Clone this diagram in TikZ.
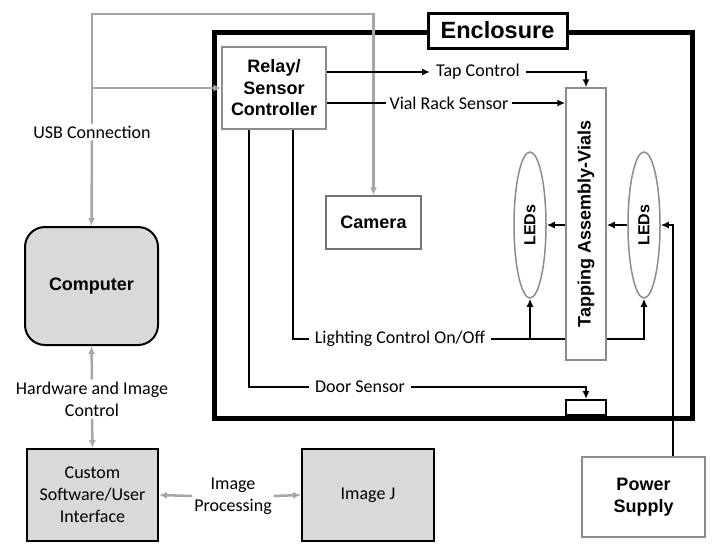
\documentclass[tikz,border=0pt]{standalone}
\usepackage{fontspec}
\setmainfont{Carlito}
\newfontfamily\headfont{Liberation Sans}
\usepackage{xcolor}
\usetikzlibrary{shapes.geometric, arrows.meta, positioning, calc}

\definecolor{linegray}{HTML}{A6A6A6}
\definecolor{boxgray}{HTML}{D9D9D9}
\definecolor{edgegray}{HTML}{8C8C8C}

\begin{document}
\begin{tikzpicture}[x=1pt, y=-1pt,
            label_style/.style={font=\fontsize{18}{22}\selectfont, align=center, inner xsep=6pt, inner ysep=2pt},
            head_box/.style={rectangle, draw=edgegray, line width=1.5pt, fill=white, align=center,
            inner sep=0pt, font=\headfont\bfseries\fontsize{18}{21.5}\selectfont},
            grey_box/.style={rectangle, draw=black, line width=2pt, fill=boxgray, align=center,
            inner sep=0pt, font=\fontsize{18}{22}\selectfont},
            led_oval/.style={ellipse, draw=edgegray, line width=1.5pt, minimum width=32pt, minimum height=146pt,
            inner sep=0pt, font=\headfont\bfseries\fontsize{16}{18}\selectfont},
            ctl/.style={line width=2pt, black},
            usb_line/.style={line width=2.5pt, linegray},
            tip/.style={-{Latex[length=8pt, width=7pt]}},
            tips/.style={{Latex[length=8pt, width=7pt]}-{Latex[length=8pt, width=7pt]}}
        ]
            \useasboundingbox (0,0) rectangle (720,555);

            % Enclosure frame and its title
            \node[draw, line width=5pt, minimum width=478pt, minimum height=386pt, inner sep=0pt] (encl) at (453,225) {};
            \node[draw, line width=3pt, fill=white, minimum width=139pt, minimum height=35pt, inner sep=0pt,
            font=\headfont\bfseries\fontsize{23.5}{26}\selectfont] (title) at (497.5,30.5) {Enclosure};

            % Parts inside the enclosure
            \node[head_box, minimum width=104pt, minimum height=82pt] (relay) at (274,88) {Relay/\\Sensor\\Controller};
            \node[head_box, draw=black!55, minimum width=95pt, minimum height=53pt] (cam) at (373.5,222.5) {Camera};
            \node[head_box, minimum width=40pt, minimum height=272pt] (tap) at (586,224) {};
            \node[rotate=90, font=\headfont\bfseries\fontsize{18}{21}\selectfont] (taptext) at (tap.center) {Tapping Assembly-Vials};
            \node[led_oval] (ledL) at (530,225) {};
            \node[rotate=90, font=\headfont\bfseries\fontsize{16}{18}\selectfont] at (ledL.center) {LEDs};
            \node[led_oval] (ledR) at (644,225) {};
            \node[rotate=90, font=\headfont\bfseries\fontsize{16}{18}\selectfont] at (ledR.center) {LEDs};
            \node[draw, line width=2pt, fill=white, minimum width=40pt, minimum height=15pt, inner sep=0pt] (dsens) at (586,407.5) {};

            % Boxes outside
            \node[grey_box, rounded corners=20pt, minimum width=133pt, minimum height=118pt,
            font=\headfont\bfseries\fontsize{18}{21}\selectfont] (comp) at (91.5,286) {Computer};
            \node[grey_box, minimum width=131pt, minimum height=92pt] (cust) at (92.5,495) {Custom\\Software/User\\Interface};
            \node[grey_box, minimum width=132pt, minimum height=92pt] (imj) at (368,495) {Image J};
            \node[head_box, minimum width=123pt, minimum height=80pt] (power) at (643.5,497) {Power\\Supply};

            % Connector labels
            \node[label_style] (usb) at (92,132) {USB Connection};
            \node[label_style] (hw) at (92,399) {Hardware and Image\\Control};
            \node[label_style, inner xsep=2pt] (imgp) at (233,496) {Image\\Processing};
            \node[label_style] (tapc) at (478,72) {Tap Control};
            \node[label_style, inner xsep=3pt] (vial) at (449,103) {Vial Rack Sensor};
            \node[label_style] (light) at (400,339) {Lighting Control On/Off};
            \node[label_style] (door) at (360,387) {Door Sensor};

            % USB and software links
            \coordinate (usbtop) at (92,14);
            \draw[usb_line, tip] (usb.north) -- (usbtop) -| (cam.north);
            \draw[usb_line, tip] (usb.north |- relay.west) -- (relay.west);
            \draw[usb_line, tip] (usb.south) -- (comp.north);
            \draw[usb_line, tip] (hw.north) -- (comp.south);
            \draw[usb_line, tip] (hw.south) -- (cust.north);
            \draw[usb_line, tip] (imgp.west) -- (cust.east);
            \draw[usb_line, tip] (imgp.east) -- (imj.west);

            % Control lines from the relay
            \draw[ctl, tip] (relay.east |- tapc) -- (tapc.west);
            \draw[ctl, tip] (tapc.east) -| (tap.north);
            \draw[ctl] (relay.east |- vial) -- (vial.west);
            \draw[ctl, tip] (vial.east) -- (tap.west |- vial);
            \draw[ctl] ([xshift=19pt]relay.south) |- (light.west);
            \draw[ctl] (light.east) -- (tap.west |- light);
            \draw[ctl, tip] (ledL.south |- light) -- (ledL.south);
            \draw[ctl, tip] (tap.east |- light) -| (ledR.south);
            \draw[ctl] ([xshift=-25pt]relay.south) |- (door.west);
            \draw[ctl, tip] (door.east) -| (dsens.north);

            % LEDs and power
            \draw[ctl, tip] (tap.west |- ledL.east) -- (ledL.east);
            \draw[ctl, tip] (ledR.west) -- (tap.east |- ledR.west);
            \draw[ctl, tip] ([xshift=29.5pt]power.north) |- (ledR.east);

        \end{tikzpicture}
\end{document}
